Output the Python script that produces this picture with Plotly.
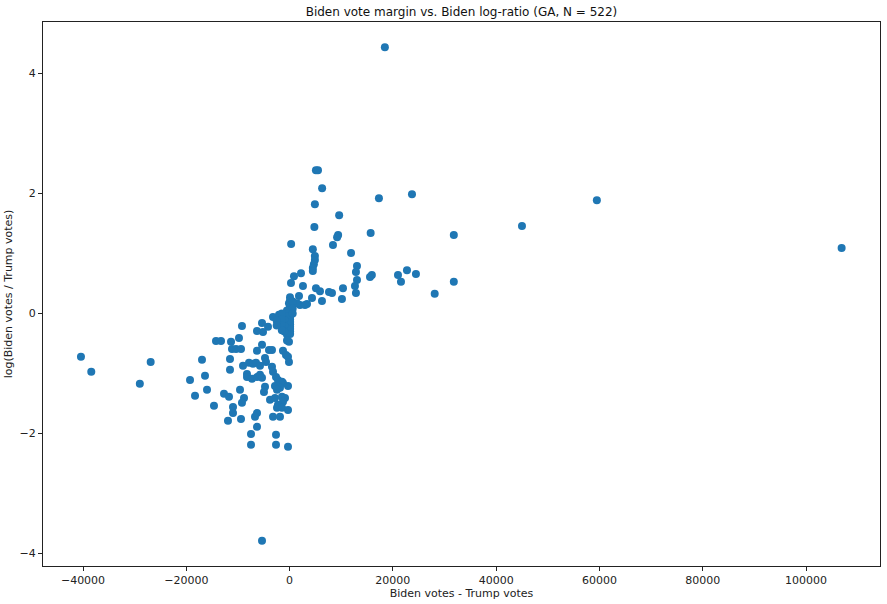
import plotly.graph_objects as go

# Biden vote margin (votes) and log-ratio
margin = [
    18450, -5340, 106900, 59500, 45000, 23700, 17300, 31800, 31800, 28100,
    15700, 9600, 5100, 5500, 6300, 4900, 4800, 300, 9400, 9200,
    8400, 4500, 4900, 4900, 4700, 4500, 4500, 11900, 13050, 12850,
    13050, 12660, 12850, 15930, 15570, 20990, 21570, 22730, 24470, 2210,
    850, 270, 2590, 5110, 5890, 7630, 8210, 10340, 10140, 6270,
    4340, 3370, 2010, 80, 1820, 850, -120, 2980, 1430, 80,
    -3210, -2050, -5340, -4180, -5150, -6310, -9220,
    -40400, -38400, -26900, -29000,
    -14250, -13280, -11340, -9800, -11150, -10380, -9410, -6310, -5340, -3990,
    -3410, -1280, -700, -310, -120, -120,
    -16960, -11540, -4760, -4570,
    -9020, -7860, -7090, -6500, -5730,
    -3410, -3210, -2630, -2250, -1470, -1280,
    -11540, -16380, -19280, -8250, -8250,
    -7280, -6310, -5730, -5340,
    -2830, -1860, -2440, -310, -4760, -4960,
    -15990, -18310, -9600, -12700, -11730, -8830, -9220,
    -3790, -2830, -1470, -890, -1280, -2250, -2440, -1470, -310,
    -10960, -14640, -10960, -11930, -9410, -6310, -6700, -3210, -1860, -6310,
    -7470, -2630, -7470, -2630, -310,
    100, 100, 100, 100, 100, 100, 100, 100, 100, 100,
    100, 100, 100, 100, 100,
    -500, -500, -500, -500, -500, -500,
    -1000, -1000, -1000,
    -1500, -1500, -1500, -1500,
    -2500, -2500,
    600, 600, 600,
]
log_ratio = [
    4.44, -3.79, 1.09, 1.89, 1.46, 1.99, 1.92, 1.31, 0.53, 0.33,
    1.34, 1.64, 2.39, 2.39, 2.09, 1.82, 1.44, 1.16, 1.31, 1.27,
    1.14, 1.07, 0.96, 0.89, 0.82, 0.76, 0.71, 1.01, 0.79, 0.69,
    0.56, 0.46, 0.34, 0.64, 0.61, 0.64, 0.53, 0.72, 0.66, 0.67,
    0.62, 0.51, 0.46, 0.42, 0.37, 0.36, 0.34, 0.42, 0.24, 0.21,
    0.26, 0.16, 0.14, 0.27, 0.29, 0.17, 0.17, 0.14, 0.17, 0.14,
    -0.06, -0.02, -0.16, -0.22, -0.31, -0.29, -0.21,
    -0.72, -0.97, -0.81, -1.17,
    -0.46, -0.46, -0.47, -0.41, -0.59, -0.59, -0.59, -0.62, -0.52, -0.61,
    -0.61, -0.62, -0.69, -0.72, -0.81, -0.47,
    -0.77, -0.76, -0.74, -0.81,
    -0.87, -0.82, -0.84, -0.82, -0.87,
    -0.89, -0.97, -1.06, -1.11, -1.14, -1.16,
    -0.94, -1.04, -1.11, -1.01, -1.06,
    -1.09, -1.06, -1.02, -1.07,
    -1.21, -1.24, -1.27, -1.21, -1.22, -1.31,
    -1.27, -1.37, -1.27, -1.34, -1.39, -1.41, -1.49,
    -1.44, -1.41, -1.39, -1.41, -1.47, -1.52, -1.57, -1.57, -1.61,
    -1.56, -1.54, -1.66, -1.79, -1.76, -1.66, -1.72, -1.72, -1.72, -1.89,
    -2.01, -2.02, -2.19, -2.19, -2.22,
    0.22, 0.18, 0.14, 0.10, 0.06, 0.02, -0.02, -0.06, -0.10, -0.14,
    -0.18, -0.22, -0.26, -0.30, -0.34,
    0.05, -0.05, -0.15, -0.25, -0.35, -0.45,
    -0.10, -0.20, -0.30,
    0.0, -0.10, -0.20, -0.28,
    -0.12, -0.20,
    0.20, 0.08, 0.0,
]

x_ticks = [-40000, -20000, 0, 20000, 40000, 60000, 80000, 100000]
x_tick_text = ["\u221240000", "\u221220000", "0", "20000", "40000", "60000", "80000", "100000"]
y_ticks = [-4, -2, 0, 2, 4]
y_tick_text = ["\u22124", "\u22122", "0", "2", "4"]

font = "DejaVu Sans, sans-serif"

fig = go.Figure(
    go.Scatter(
        x=margin, y=log_ratio, mode="markers",
        marker=dict(size=8, color="#1f77b4", line=dict(width=0)),
        hoverinfo="skip",
    )
)

axis_common = dict(
    showgrid=False, zeroline=False, showline=True, mirror=True,
    linecolor="#222222", linewidth=1, ticks="outside", ticklen=4,
    tickcolor="#222222", tickfont=dict(family=font, size=11, color="#222222"),
)

fig.update_layout(
    width=887, height=604,
    margin=dict(l=43, r=7, t=22, b=38),
    paper_bgcolor="white", plot_bgcolor="white",
    showlegend=False,
    title=dict(
        text="Biden vote margin vs. Biden log-ratio (GA, N = 522)",
        x=0.5, xref="paper", y=1 - 12 / 604, yref="container",
        xanchor="center", yanchor="middle",
        font=dict(family=font, size=12, color="#111111"),
    ),
    xaxis=dict(
        range=[-47750, 114330], tickvals=x_ticks, ticktext=x_tick_text,
        title=dict(text="Biden votes - Trump votes", standoff=2,
                   font=dict(family=font, size=11, color="#222222")),
        **axis_common,
    ),
    yaxis=dict(
        range=[-4.21, 4.86], tickvals=y_ticks, ticktext=y_tick_text,
        title=dict(text="log(Biden votes / Trump votes)", standoff=4,
                   font=dict(family=font, size=11, color="#222222")),
        **axis_common,
    ),
)

fig.write_html("out.html")
